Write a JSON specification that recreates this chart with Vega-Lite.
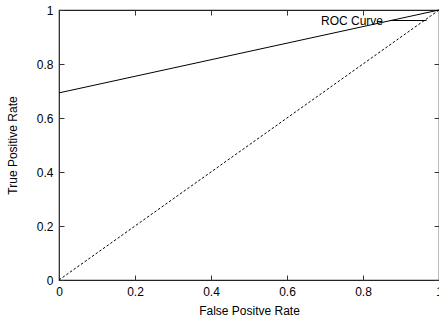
{
  "$schema": "https://vega.github.io/schema/vega-lite/v6.json",
  "width": 380,
  "height": 270,
  "autosize": {"type": "none"},
  "padding": {"left": 59, "top": 10, "right": 0, "bottom": 41},
  "background": "white",
  "config": {
    "view": {"stroke": "#222222", "strokeWidth": 1.2},
    "font": "Liberation Sans",
    "axis": {
      "grid": false,
      "domain": false,
      "ticks": true,
      "tickColor": "#333333",
      "tickWidth": 1,
      "tickSize": 5,
      "offset": -5,
      "labelFlush": false,
      "labelColor": "black",
      "labelFontSize": 12,
      "titleFontSize": 12,
      "titleFontWeight": "normal",
      "titleColor": "black",
      "format": "~g"
    }
  },
  "datasets": {
    "roc": [
      {"fpr": 0, "tpr": 0.693, "series": "ROC Curve"},
      {"fpr": 1, "tpr": 1, "series": "ROC Curve"}
    ],
    "diag": [
      {"fpr": 0, "tpr": 0},
      {"fpr": 1, "tpr": 1}
    ]
  },
  "layer": [
    {
      "data": {"name": "diag"},
      "mark": {"type": "line", "color": "black", "strokeWidth": 1, "strokeDash": [2.5, 2]},
      "encoding": {
        "x": {"field": "fpr", "type": "quantitative", "scale": {"domain": [0, 1], "nice": false},
              "axis": {"title": "False Positve Rate", "values": [0, 0.2, 0.4, 0.6, 0.8, 1], "labelPadding": 6, "titlePadding": 8}},
        "y": {"field": "tpr", "type": "quantitative", "scale": {"domain": [0, 1], "nice": false},
              "axis": {"title": "True Positive Rate", "values": [0, 0.2, 0.4, 0.6, 0.8, 1], "labelPadding": 6, "titlePadding": 17}}
      }
    },
    {
      "data": {"name": "roc"},
      "mark": {"type": "line", "strokeWidth": 1},
      "encoding": {
        "x": {"field": "fpr", "type": "quantitative",
              "axis": {"orient": "top", "labels": false, "title": null, "values": [0, 0.2, 0.4, 0.6, 0.8, 1]}},
        "y": {"field": "tpr", "type": "quantitative",
              "axis": {"orient": "right", "labels": false, "title": null, "values": [0, 0.2, 0.4, 0.6, 0.8, 1]}},
        "color": {"field": "series", "type": "nominal", "scale": {"range": ["black"]},
                  "legend": {"title": null, "orient": "none", "legendX": 330, "legendY": -8.5, "padding": 0,
                             "symbolType": "stroke", "symbolSize": 1369, "symbolStrokeWidth": 1,
                             "labelAlign": "right", "labelOffset": -44, "labelFontSize": 12, "labelColor": "black"}}
      }
    }
  ],
  "resolve": {"axis": {"x": "independent", "y": "independent"}}
}
